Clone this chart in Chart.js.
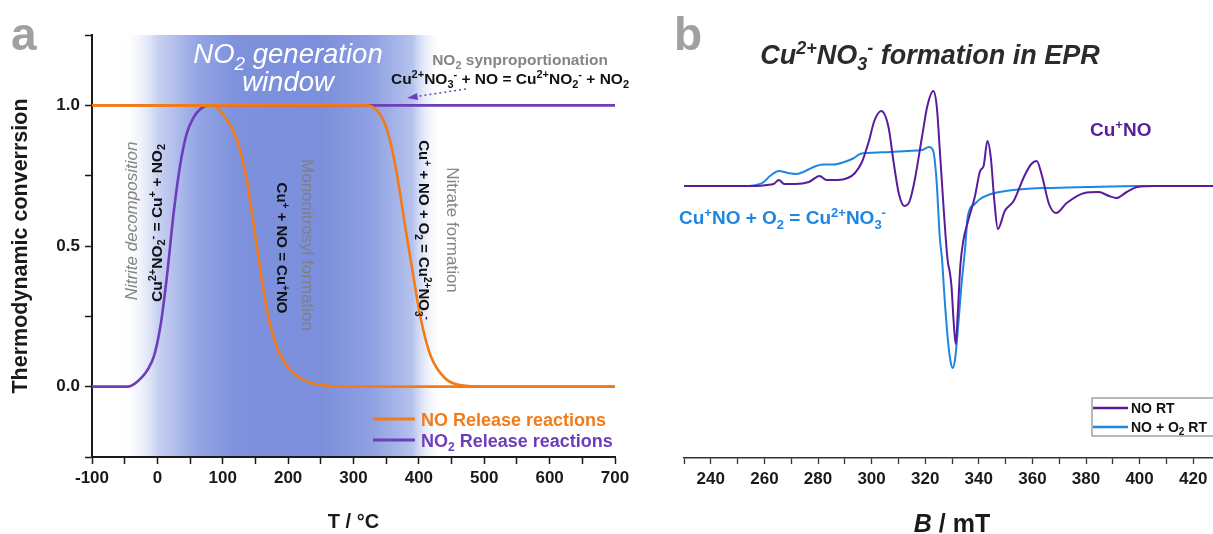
<!DOCTYPE html>
<html>
<head>
<meta charset="utf-8">
<script src="https://cdn.jsdelivr.net/npm/chart.js@4.4.0/dist/chart.umd.min.js"></script>
<style>
  html, body { margin: 0; padding: 0; background: #fff; width: 1213px; height: 534px; overflow: hidden; }
  .panel { position: absolute; top: 0; }
  #panelA { left: 0; }
  #panelB { left: 660px; }
</style>
</head>
<body>
<canvas id="panelA" class="panel" width="660" height="534"></canvas>
<canvas id="panelB" class="panel" width="580" height="534"></canvas>
<script>
// ---- panel a: thermodynamic conversion vs temperature ----
const nitriteT    = [-100, -45, -35, -25, -15, -5, 5, 15, 25, 35, 45, 55, 65, 77, 700];
const nitriteConv = [0, 0, 0.01, 0.03, 0.06, 0.11, 0.22, 0.4, 0.62, 0.79, 0.9, 0.955, 0.985, 1, 1];

const monoT    = [-100, 80, 90, 100, 122, 137, 152, 167, 183, 203, 229, 253, 290, 700];
const monoConv = [1, 1, 0.995, 0.97, 0.875, 0.73, 0.5, 0.28, 0.14, 0.06, 0.018, 0.005, 0, 0];

const nitrateT    = [-100, 320, 340, 353, 366, 379, 391, 403, 418, 440, 465, 500, 700];
const nitrateConv = [1, 1, 0.97, 0.9, 0.76, 0.57, 0.4, 0.24, 0.11, 0.03, 0.005, 0, 0];

const tempTicks = { min: -100, max: 700, step: 50, labelEvery: 100 };
const convTicks = { min: -0.25, max: 1.25, step: 0.25, labelled: [0, 0.5, 1] };
const releaseLabels = ['NO Release reactions', 'NO_{2} Release reactions'];

// ---- panel b: EPR spectra ----
const fieldNO  = [230, 257, 261, 263.4, 265.4, 267.4, 271.4, 276.6, 280.6, 283.2,
                  287.2, 291.1, 293.8, 296.4, 299, 301, 303.6, 306.3, 308.2, 310.2,
                  312.2, 314.2, 316.1, 318.8, 320.8, 323, 324.3, 325.4, 326.7, 327.6,
                  328.4, 329.1, 329.8, 330.6, 331.4, 332.2, 333.1, 334.2, 335.9, 338.5,
                  340.5, 341.8, 343.2, 344.5, 345.8, 347.1, 349.7, 353, 357, 359.6,
                  361.6, 363.6, 366.2, 368.8, 372.8, 379.4, 384.7, 388.6, 391.3, 395.2,
                  399.2, 405.7, 430];
const signalNO = [0, 0, 1, 2, 6, 2, 2, 4, 10, 6,
                  6, 8, 13, 24, 45, 65, 75, 59, 24, -8,
                  -20, -15, 6, 49, 80, 95, 80, 38, -15, -50,
                  -75, -85, -100, -135, -158, -125, -80, -55, -36, -11,
                  15, 20, 45, 28, -15, -43, -25, -15, 10, 22,
                  25, 10, -18, -27, -17, -7, -6, -10, -12, -6,
                  -1, 0, 0];

const fieldNOO2  = [230, 254, 256.9, 259.5, 262.1, 265.4, 268.7, 272, 275.3, 279.3,
                    281.9, 285.8, 289.8, 293.1, 295.7, 299, 306.9, 313.5, 318.8, 321.4,
                    323, 324.3, 325.4, 326.3, 327.3, 328.5, 329.5, 330.3, 331.2, 332.3,
                    333.5, 334.9, 335.9, 338.5, 340.5, 344, 350, 357, 365, 380,
                    400, 430];
const signalNOO2 = [0, 0, 1, 3.5, 10, 15, 13, 12, 15, 20,
                    21.5, 21.5, 24, 27.5, 32, 33, 34, 35, 36, 39,
                    35, 3, -50, -74, -115, -155, -176, -182, -172, -140,
                    -100, -62, -30, -18, -13, -8.5, -5, -3, -2, -1,
                    0, 0];

const fieldTicks = { min: 230, max: 430, step: 10, labelEvery: 20 };
const spectrumLabels = ['NO RT', 'NO + O_{2} RT'];

const FONT = '"Liberation Sans", Arial, sans-serif';
const ORANGE = '#F27B18';
const VIOLET = '#6D3DBA';
const EPR_VIOLET = '#581C9C';
const EPR_BLUE = '#1E86E0';
const NOTE_GREY = '#858585';

const pts = (xs, ys) => xs.map((x, i) => ({ x, y: ys[i] }));

// text with ^{sup} and _{sub} markup, y is the baseline
function parseRich(str) {
  const parts = [];
  const re = /\^\{([^}]*)\}|_\{([^}]*)\}|([^^_]+)/g;
  let m;
  while ((m = re.exec(str))) {
    if (m[1] !== undefined) parts.push({ t: m[1], k: 'sup' });
    else if (m[2] !== undefined) parts.push({ t: m[2], k: 'sub' });
    else parts.push({ t: m[3], k: '' });
  }
  return parts;
}

function richText(ctx, str, x, y, o) {
  const size = o.size;
  const pre = (o.italic ? 'italic ' : '') + (o.bold ? 'bold ' : '');
  const fontFor = k => pre + (k ? Math.round(size * 0.68) : size) + 'px ' + FONT;
  const parts = parseRich(str);
  let w = 0;
  parts.forEach(p => { ctx.font = fontFor(p.k); p.w = ctx.measureText(p.t).width; w += p.w; });
  let cx = o.align === 'center' ? x - w / 2 : o.align === 'right' ? x - w : x;
  ctx.fillStyle = o.color;
  ctx.textAlign = 'left';
  ctx.textBaseline = 'alphabetic';
  parts.forEach(p => {
    ctx.font = fontFor(p.k);
    const dy = p.k === 'sup' ? -size * 0.38 : p.k === 'sub' ? size * 0.24 : 0;
    ctx.fillText(p.t, cx, y + dy);
    cx += p.w;
  });
  return w;
}

function rotText(ctx, str, cx, cy, angle, o) {
  ctx.save();
  ctx.translate(cx, cy);
  ctx.rotate(angle);
  richText(ctx, str, 0, o.size * 0.36, Object.assign({}, o, { align: 'center' }));
  ctx.restore();
}

const tickFont = { family: FONT, size: 17, weight: 'bold' };

// blue "generation window" band behind the curves
const bandStops = [[-55, 'rgba(255,255,255,0)'], [0, '#c9d2f1'], [60, '#94a6e5'], [120, '#7d91dc'],
                   [250, '#7b8fdc'], [330, '#8fa1e1'], [390, '#b5c2ed'], [435, 'rgba(255,255,255,0)']];

const windowBand = {
  id: 'windowBand',
  beforeDraw(chart) {
    const { ctx, chartArea: a, scales: { x } } = chart;
    const x0 = x.getPixelForValue(bandStops[0][0]);
    const x1 = x.getPixelForValue(bandStops[bandStops.length - 1][0]);
    const g = ctx.createLinearGradient(x0, 0, x1, 0);
    bandStops.forEach(([t, c]) => g.addColorStop((x.getPixelForValue(t) - x0) / (x1 - x0), c));
    ctx.save();
    ctx.fillStyle = g;
    ctx.fillRect(x0, a.top, x1 - x0, a.bottom - a.top - 1);
    ctx.restore();
  }
};

const notesA = {
  id: 'notesA',
  afterDraw(chart) {
    const ctx = chart.ctx;
    ctx.save();
    richText(ctx, 'a', 11, 50, { size: 46, bold: true, color: '#a0a0a0' });
    richText(ctx, 'NO_{2} generation', 288, 63, { size: 27.5, italic: true, color: '#ffffff', align: 'center' });
    richText(ctx, 'window', 288, 91, { size: 27.5, italic: true, color: '#ffffff', align: 'center' });

    richText(ctx, 'NO_{2} synproportionation', 520, 65, { size: 15.5, bold: true, color: NOTE_GREY, align: 'center' });
    richText(ctx, 'Cu^{2+}NO_{3}^{-} + NO = Cu^{2+}NO_{2}^{-} + NO_{2}', 510, 84, { size: 15.5, bold: true, color: '#111', align: 'center' });

    // dotted arrow toward the NO2 plateau
    ctx.strokeStyle = VIOLET;
    ctx.fillStyle = VIOLET;
    ctx.lineWidth = 1.5;
    ctx.setLineDash([2, 3]);
    ctx.beginPath();
    ctx.moveTo(466, 89);
    ctx.lineTo(416, 96.5);
    ctx.stroke();
    ctx.setLineDash([]);
    ctx.beginPath();
    ctx.moveTo(407, 98);
    ctx.lineTo(417, 93);
    ctx.lineTo(418, 100);
    ctx.closePath();
    ctx.fill();

    const up = -Math.PI / 2, down = Math.PI / 2;
    rotText(ctx, 'Nitrite decomposition', 131, 221, up, { size: 17, italic: true, color: NOTE_GREY });
    rotText(ctx, 'Cu^{2+}NO_{2}^{-} = Cu^{+} + NO_{2}', 156, 223, up, { size: 15.5, bold: true, color: '#111' });
    rotText(ctx, 'Cu^{+} + NO = Cu^{+}NO', 282, 248, down, { size: 15, bold: true, color: '#111' });
    rotText(ctx, 'Mononitrosyl formation', 308, 245, down, { size: 17, color: '#7f7f86' });
    rotText(ctx, 'Cu^{+} + NO + O_{2} = Cu^{2+}NO_{3}^{-}', 424, 230, down, { size: 15, bold: true, color: '#111' });
    rotText(ctx, 'Nitrate formation', 453, 230, down, { size: 17, color: NOTE_GREY });

    // legend
    const rows = [[releaseLabels[0], ORANGE, 419], [releaseLabels[1], VIOLET, 440]];
    rows.forEach(([label, color, y]) => {
      ctx.strokeStyle = color;
      ctx.lineWidth = 3;
      ctx.beginPath();
      ctx.moveTo(373, y);
      ctx.lineTo(415, y);
      ctx.stroke();
      richText(ctx, label, 421, y + 6.5, { size: 18, bold: true, color });
    });
    ctx.restore();
  }
};

new Chart(document.getElementById('panelA'), {
  type: 'line',
  data: {
    datasets: [
      { label: releaseLabels[0], data: pts(monoT, monoConv), borderColor: ORANGE },
      { label: releaseLabels[0], data: pts(nitrateT, nitrateConv), borderColor: ORANGE },
      { label: releaseLabels[1], data: pts(nitriteT, nitriteConv), borderColor: VIOLET }
    ]
  },
  options: {
    responsive: false,
    animation: false,
    elements: {
      point: { radius: 0 },
      line: { borderWidth: 2.6, cubicInterpolationMode: 'monotone', fill: false }
    },
    layout: { padding: { left: 0, right: 45, top: 35, bottom: 0 } },
    plugins: { legend: { display: false }, tooltip: { enabled: false } },
    scales: {
      x: {
        type: 'linear',
        min: tempTicks.min,
        max: tempTicks.max,
        afterFit: s => { s.height = 77; },
        border: { color: '#1a1a1a', width: 2 },
        grid: { drawOnChartArea: false, drawTicks: true, tickLength: 7, color: '#1a1a1a', tickWidth: 1.5 },
        ticks: {
          stepSize: tempTicks.step, autoSkip: false, maxRotation: 0, padding: 4,
          color: '#1a1a1a', font: tickFont,
          callback: v => (v % tempTicks.labelEvery === 0 ? String(v) : '')
        },
        title: { display: true, text: 'T / °C', color: '#1a1a1a', font: { family: FONT, size: 20, weight: 'bold' }, padding: { bottom: 0 } }
      },
      y: {
        min: convTicks.min,
        max: convTicks.max,
        afterFit: s => { s.width = 92; },
        border: { color: '#1a1a1a', width: 2 },
        grid: { drawOnChartArea: false, drawTicks: true, tickLength: 7, color: '#1a1a1a', tickWidth: 1.5 },
        ticks: {
          stepSize: convTicks.step, autoSkip: false, padding: 5,
          color: '#1a1a1a', font: tickFont,
          callback: v => (convTicks.labelled.some(t => Math.abs(v - t) < 1e-6) ? v.toFixed(1) : '')
        },
        title: { display: true, text: 'Thermodynamic converrsion', color: '#1a1a1a', font: { family: FONT, size: 21.5, weight: 'bold' }, padding: { top: 8 } }
      }
    }
  },
  plugins: [windowBand, notesA]
});

// panel b canvas starts 660px into the page
const notesB = {
  id: 'notesB',
  afterDraw(chart) {
    const ctx = chart.ctx;
    const { chartArea: a } = chart;
    ctx.save();
    richText(ctx, 'b', 14, 50, { size: 46, bold: true, color: '#a0a0a0' });
    richText(ctx, 'Cu^{2+}NO_{3}^{-} formation in EPR', 270, 64, { size: 27, bold: true, italic: true, color: '#2b2b2b', align: 'center' });
    richText(ctx, 'Cu^{+}NO', 430, 136, { size: 19, bold: true, color: EPR_VIOLET });
    richText(ctx, 'Cu^{+}NO + O_{2} = Cu^{2+}NO_{3}^{-}', 19, 224, { size: 19, bold: true, color: EPR_BLUE });

    // legend box
    ctx.strokeStyle = '#8a8a8a';
    ctx.lineWidth = 1.2;
    ctx.strokeRect(432, 398, 140, 38);
    const rows = [[spectrumLabels[0], EPR_VIOLET, 408], [spectrumLabels[1], EPR_BLUE, 427]];
    rows.forEach(([label, color, y]) => {
      ctx.strokeStyle = color;
      ctx.lineWidth = 2.5;
      ctx.beginPath();
      ctx.moveTo(433, y);
      ctx.lineTo(468, y);
      ctx.stroke();
      richText(ctx, label, 471, y + 5, { size: 14, bold: true, color: '#111' });
    });

    // axis title with italic B
    const cx = (a.left + a.right) / 2;
    ctx.font = 'italic bold 25px ' + FONT;
    const wB = ctx.measureText('B').width;
    ctx.font = 'bold 25px ' + FONT;
    const wRest = ctx.measureText(' / mT').width;
    const x0 = cx - (wB + wRest) / 2;
    richText(ctx, 'B', x0, 532, { size: 25, bold: true, italic: true, color: '#1a1a1a' });
    richText(ctx, ' / mT', x0 + wB, 532, { size: 25, bold: true, color: '#1a1a1a' });
    ctx.restore();
  }
};

new Chart(document.getElementById('panelB'), {
  type: 'line',
  data: {
    datasets: [
      { label: spectrumLabels[0], data: pts(fieldNO, signalNO), borderColor: EPR_VIOLET },
      { label: spectrumLabels[1], data: pts(fieldNOO2, signalNOO2), borderColor: EPR_BLUE }
    ]
  },
  options: {
    responsive: false,
    animation: false,
    elements: {
      point: { radius: 0 },
      line: { borderWidth: 2, cubicInterpolationMode: 'monotone', fill: false }
    },
    layout: { padding: { left: 24, right: 20, top: 60, bottom: 0 } },
    plugins: { legend: { display: false }, tooltip: { enabled: false } },
    scales: {
      x: {
        type: 'linear',
        min: fieldTicks.min,
        max: fieldTicks.max,
        afterFit: s => { s.height = 76; },
        border: { color: '#333', width: 1.5 },
        grid: { drawOnChartArea: false, drawTicks: true, tickLength: 6, color: '#333', tickWidth: 1.3 },
        ticks: {
          stepSize: fieldTicks.step, autoSkip: false, maxRotation: 0, padding: 5,
          color: '#1a1a1a', font: tickFont,
          callback: v => (v % fieldTicks.labelEvery === 0 ? String(v) : '')
        }
      },
      y: { display: false, min: -272, max: 126 }
    }
  },
  plugins: [notesB]
});
</script>
</body>
</html>
